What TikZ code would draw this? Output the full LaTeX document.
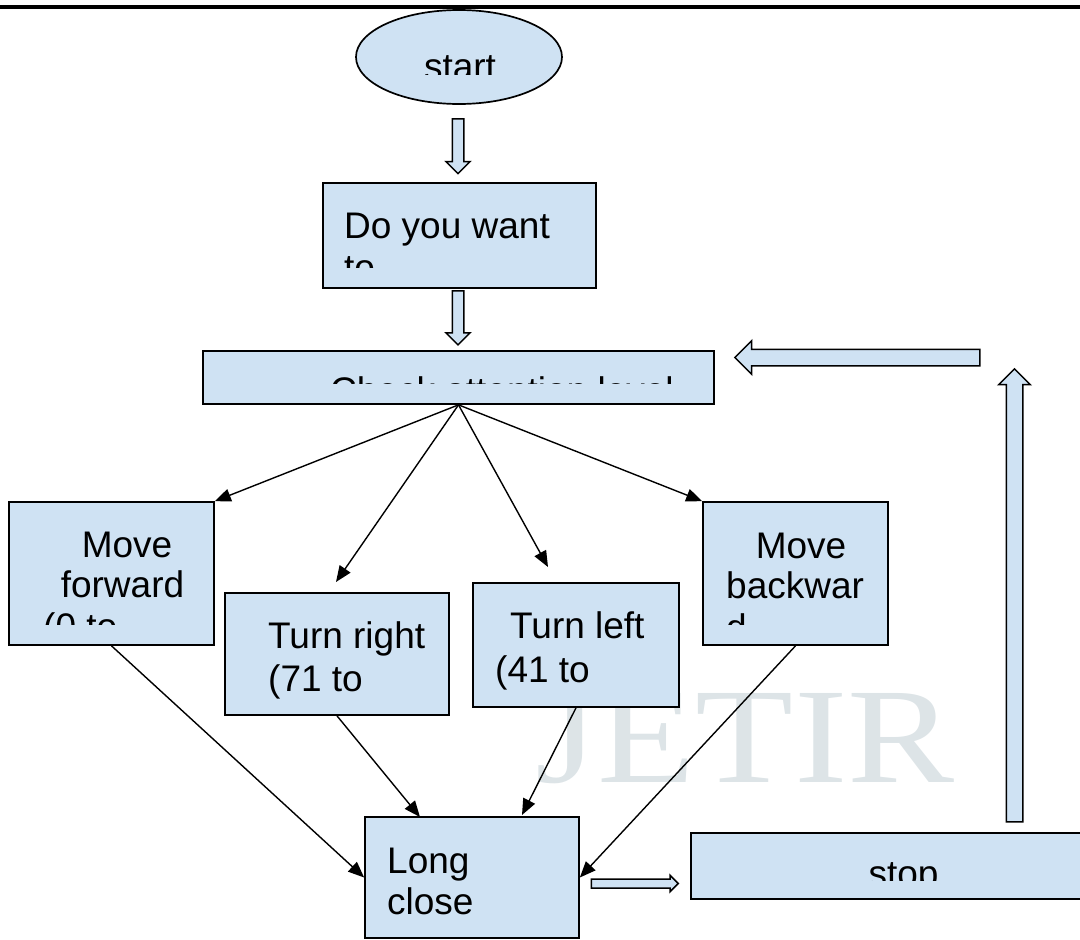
\documentclass[tikz,border=0pt]{standalone}
\usepackage{fontspec}
\setmainfont{Liberation Sans}
\newfontfamily\wmfont{Liberation Serif}
\usetikzlibrary{shapes.geometric,shapes.arrows,arrows.meta,calc}
\definecolor{boxblue}{HTML}{CFE2F3}
\definecolor{wmgray}{HTML}{DDE4E7}
\begin{document}
\begin{tikzpicture}[x=1pt,y=-1pt,
  box/.style={draw=black, fill=boxblue, line width=1.7pt, inner sep=0pt},
  lbl/.style={anchor=base west, inner sep=0pt, font=\fontsize{37}{42}\selectfont},
  lblc/.style={anchor=base, inner sep=0pt, font=\fontsize{37}{42}\selectfont},
  conn/.style={line width=1.4pt, -{Triangle[length=16pt,width=13pt]}},
  blk/.style={single arrow, draw=black, fill=boxblue, line width=1.5pt, inner xsep=0pt, single arrow tip angle=90}
]
\useasboundingbox (0,0) rectangle (1080,940);
% watermark
\node[anchor=base, inner sep=0pt, text=wmgray, font=\wmfont\fontsize{136}{136}\selectfont, xscale=1.18] (wm) at (745,782) {JETIR};
% top rule
\draw[line width=4pt] (0,6.7) -- (1080,6.7);

% boxes
\node[box, ellipse, minimum width=206pt, minimum height=94pt] (start) at (459,57) {};
\node[box, minimum width=273pt, minimum height=104.7pt] (want) at (459.2,235.3) {};
\node[box, minimum width=511pt, minimum height=53pt] (check) at (458.5,377.5) {};
\node[box, minimum width=205pt, minimum height=143pt] (fwd) at (111.5,573.5) {};
\node[box, minimum width=224pt, minimum height=122pt] (right) at (337,654) {};
\node[box, minimum width=206pt, minimum height=124pt] (left) at (576,645) {};
\node[box, minimum width=185pt, minimum height=143pt] (back) at (795.5,573.5) {};
\node[box, minimum width=214pt, minimum height=121pt] (close) at (472,877.5) {};
\node[box, minimum width=404pt, minimum height=66pt] (stop) at (893,866) {};

% labels (clipped like the original)
\begin{scope}
\clip (356,10) rectangle (562,74);
\node[lblc] (tstart) at (460,79) {start};
\end{scope}
\node[lbl] (twant1) at (344,238) {Do you want};
\begin{scope}
\clip (323,183) rectangle (596,267);
\node[lbl] (twant2) at (344,280) {to};
\end{scope}
\begin{scope}
\clip (203,351) rectangle (714,383.5);
\node[lbl] (tcheck) at (330,403.5) {Check attention level};
\end{scope}
\node[lblc] (tfwd1) at (127,557) {Move};
\node[lblc] (tfwd2) at (122.5,597.5) {forward};
\begin{scope}
\clip (9,502) rectangle (214,624.5);
\node[lbl] (tfwd3) at (43,639) {(0 to};
\end{scope}
\node[lbl] (tright1) at (268,648) {Turn right};
\node[lbl] (tright2) at (268,691) {(71 to};
\node[lbl] (tleft1) at (510,638) {Turn left};
\node[lbl] (tleft2) at (495,682) {(41 to};
\node[lblc] (tback1) at (801,558) {Move};
\node[lbl] (tback2) at (726,598) {backwar};
\begin{scope}
\clip (703,502) rectangle (888,624);
\node[lbl] (tback3) at (726,640) {d};
\end{scope}
\node[lbl] (tclose1) at (387,873) {Long};
\node[lbl] (tclose2) at (387,914) {close};
\begin{scope}
\clip (691,833) rectangle (1080,880);
\node[lblc] (tstop) at (903.5,886) {stop};
\end{scope}

% block arrows
\node[blk, inner ysep=5pt, single arrow head extend=6.3pt, minimum height=54.7pt, rotate=-90] (a1) at (458,143.4) {};
\node[blk, inner ysep=5pt, single arrow head extend=6.3pt, minimum height=54pt, rotate=-90] (a2) at (458,315) {};
\node[blk, inner ysep=7.5pt, single arrow head extend=8.5pt, minimum height=245pt, rotate=180] (aback) at (861.5,357.5) {};
\node[blk, inner ysep=7.5pt, single arrow head extend=7.5pt, minimum height=453pt, rotate=90] (aup) at (1014.5,599.5) {};
\node[blk, inner ysep=3.75pt, single arrow head extend=3.75pt, minimum height=87pt] (aright) at (632.5,883.5) {};

% thin connectors
\coordinate (rt) at (336,582);
\coordinate (lt) at (548,567);
\coordinate (cr) at (420,817);
\coordinate (cl) at (522,815);
\draw[conn] (check.south) -- (fwd.north east);
\draw[conn] (check.south) -- (rt);
\draw[conn] (check.south) -- (lt);
\draw[conn] (check.south) -- (back.north west);
\draw[conn] (fwd.south) -- (close.west);
\draw[conn] (right.south) -- (cr);
\draw[conn] (left.south) -- (cl);
\draw[conn] (back.south) -- (close.east);
\end{tikzpicture}
\end{document}
